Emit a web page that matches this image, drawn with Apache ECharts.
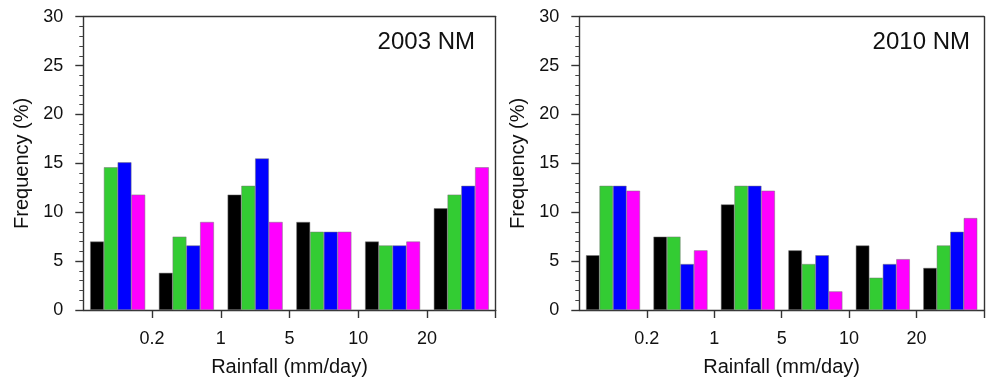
<!DOCTYPE html>
<html>
<head>
<meta charset="utf-8">
<script src="https://cdn.jsdelivr.net/npm/echarts@6/dist/echarts.min.js"></script>
<style>
html,body{margin:0;padding:0;background:#fff;}
#chart{width:987px;height:382px;}
</style>
</head>
<body>
<div id="chart"></div>
<script>
// ---- data ----
const categories = ['<0.2', '0.2-1', '1-5', '5-10', '10-20', '>20'];
const tickLabels = ['0.2', '1', '5', '10', '20'];
const panelTitles = ['2003 NM', '2010 NM'];
const seriesNames = ['Series A', 'Series B', 'Series C', 'Series D'];

const nm2003A = [7.0, 3.8, 11.8, 9.0, 7.0, 10.4];
const nm2003B = [14.6, 7.5, 12.7, 8.0, 6.6, 11.8];
const nm2003C = [15.1, 6.6, 15.5, 8.0, 6.6, 12.7];
const nm2003D = [11.8, 9.0, 9.0, 8.0, 7.0, 14.6];

const nm2010A = [5.6, 7.5, 10.8, 6.1, 6.6, 4.3];
const nm2010B = [12.7, 7.5, 12.7, 4.7, 3.3, 6.6];
const nm2010C = [12.7, 4.7, 12.7, 5.6, 4.7, 8.0];
const nm2010D = [12.2, 6.1, 12.2, 1.9, 5.2, 9.4];

// ---- styling ----
const colors = ['#000000', '#33cc33', '#0000ff', '#ff00ff'];
const FONT = '"Liberation Sans", Arial, Helvetica, sans-serif';
const LINE = { color: '#333', width: 1.4 };
const TXT = '#111';

const panels = [
  { left: 83.3, width: 412.4, titleRight: 475, data: [nm2003A, nm2003B, nm2003C, nm2003D] },
  { left: 579.3, width: 412.3, titleRight: 970, data: [nm2010A, nm2010B, nm2010C, nm2010D] }
];
const gridTop = 16.7, gridHeight = 295;

const grid = [], xAxis = [], yAxis = [], series = [], title = [];
const tickCats = [''].concat(tickLabels, ['']);

panels.forEach((p, gi) => {
  grid.push({ left: p.left, width: p.width, top: gridTop, height: gridHeight, containLabel: false });
  const xBase = xAxis.length, yBase = yAxis.length;
  // bars axis
  xAxis.push({
    type: 'category', gridIndex: gi, data: categories, position: 'bottom',
    axisLine: { show: true, onZero: false, lineStyle: LINE },
    axisTick: { show: false }, axisLabel: { show: false }, splitLine: { show: false }
  });
  // boundary tick / label axis
  xAxis.push({
    type: 'category', gridIndex: gi, data: tickCats, boundaryGap: false, position: 'bottom',
    axisLine: { show: false },
    axisTick: { show: true, length: 8, lineStyle: LINE, interval: (i) => i > 0 },
    axisLabel: { show: true, interval: 0, margin: 20, color: TXT, fontSize: 18, fontFamily: FONT },
    splitLine: { show: false },
    name: 'Rainfall (mm/day)', nameLocation: 'middle', nameGap: 47,
    nameTextStyle: { color: TXT, fontSize: 20, fontFamily: FONT }
  });
  // top frame
  xAxis.push({
    type: 'category', gridIndex: gi, data: categories, position: 'top',
    axisLine: { show: true, onZero: false, lineStyle: LINE },
    axisTick: { show: false }, axisLabel: { show: false }, splitLine: { show: false }
  });
  yAxis.push({
    type: 'value', gridIndex: gi, min: 0, max: 30, interval: 5, position: 'left',
    axisLine: { show: true, onZero: false, lineStyle: LINE },
    axisTick: { show: true, inside: false, length: 8, lineStyle: LINE },
    minorTick: { show: true, splitNumber: 5, length: 4, lineStyle: { color: '#444', width: 1 } },
    axisLabel: { margin: 20, color: TXT, fontSize: 18, fontFamily: FONT },
    splitLine: { show: false },
    name: 'Frequency (%)', nameLocation: 'middle', nameGap: 51,
    nameTextStyle: { color: TXT, fontSize: 20, fontFamily: FONT }
  });
  // right frame
  yAxis.push({
    type: 'value', gridIndex: gi, min: 0, max: 30, position: 'right',
    axisLine: { show: true, onZero: false, lineStyle: LINE },
    axisTick: { show: false }, axisLabel: { show: false }, splitLine: { show: false }
  });
  p.data.forEach((vals, si) => {
    series.push({
      type: 'bar', name: seriesNames[si], xAxisIndex: xBase, yAxisIndex: yBase,
      data: vals, barGap: '0%', barCategoryGap: '20%',
      itemStyle: { color: colors[si], borderColor: '#777', borderWidth: 0.5 },
      animation: false
    });
  });
  title.push({
    text: panelTitles[gi], right: 987 - p.titleRight, top: 30, padding: 0,
    textStyle: { color: TXT, fontSize: 24, fontWeight: 'normal', fontFamily: FONT }
  });
});

const chart = echarts.init(document.getElementById('chart'), null, { renderer: 'canvas' });
chart.setOption({ animation: false, backgroundColor: '#fff', title, grid, xAxis, yAxis, series });
</script>
</body>
</html>
